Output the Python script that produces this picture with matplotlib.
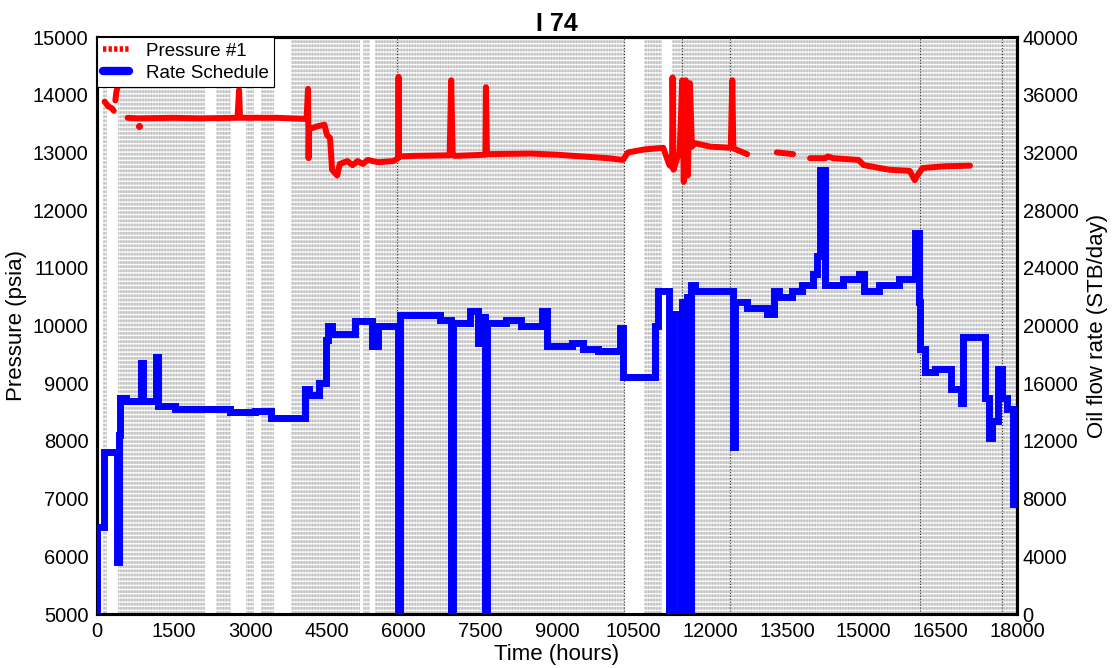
import numpy as np
import matplotlib.pyplot as plt
from matplotlib.lines import Line2D

plt.rcParams['font.family'] = ['Liberation Sans', 'DejaVu Sans']

# pressure gauge #1 (hours, psia); nan = no data
p_time = [150, 220, 300, 330, np.nan,
          360, 380, 400, np.nan,
          600, 800, 1500, 2000, 2750, 2780, 2800, 3500, 4100, 4130, 4140, 4150,
          4300, 4450, 4500, 4560, 4600, 4700, 4750, 4900, 5000, 5100, 5200, 5300,
          5500, 5800, 5890, 5900, 5910, 6200, 6900, 6930, 6960, 7000, 7600, 7610,
          7630, 8500, 9000, 9500, 10000, 10290, 10390, 10700, 11080, 11150, 11200,
          11250, 11260, 11280, 11350, 11400, 11450, 11480, 11520, 11560, 11600,
          11640, 11700, 12000, 12400, 12430, 12450, 12720, np.nan,
          13300, 13620, np.nan,
          13950, 14250, 14300, 14400, 14900, 15000, 15500, 15900, 16000, 16050,
          16150, 16600, 17080]
p_psia = [13880, 13800, 13760, 13720, np.nan,
          13900, 14050, 14120, np.nan,
          13600, 13590, 13600, 13590, 13600, 14080, 13600, 13600, 13580, 14100, 12900, 13400,
          13450, 13480, 13300, 13250, 12700, 12600, 12800, 12850, 12780, 12850, 12800, 12870,
          12830, 12850, 12900, 14310, 12930, 12940, 12950, 14250, 12950, 12940, 12960, 14130,
          12970, 12980, 12960, 12930, 12900, 12870, 13000, 13050, 13080, 12900, 12780,
          12750, 14300, 12700, 12900, 13000, 14250, 12490, 14250, 12600, 14200,
          13100, 13160, 13100, 13080, 14250, 13070, 12970, np.nan,
          13000, 12970, np.nan,
          12900, 12900, 12930, 12900, 12870, 12780, 12700, 12680, 12520, 12600,
          12730, 12760, 12770]
p_dead_time = [12720, 13300, np.nan, 13620, 13950, np.nan, 17080, 18000]
p_dead_psia = [12990, 12990, np.nan, 12930, 12930, np.nan, 12760, 12760]
p_odd_time = [820]
p_odd_psia = [13460]

# rate schedule (hours, STB/day), step changes
q_time = [0, 0, 140, 390, 430, 460, 560, 860, 900, 1150, 1190, 1200, 1530, 2600,
          3100, 3400, 4070, 4150, 4350, 4480, 4520, 4600, 5050, 5380, 5500, 5880,
          5930, 6710, 6920, 6960, 7300, 7450, 7550, 7600, 7640, 8000, 8300, 8700,
          8800, 9300, 9500, 9800, 10240, 10290, 10920, 10980, 11200, 11260, 11400,
          11440, 11500, 11540, 11580, 11620, 11700, 12440, 12480, 12720, 13100,
          13250, 13350, 13600, 13800, 14000, 14080, 14150, 14250, 14600, 14900,
          15000, 15300, 15700, 16010, 16080, 16110, 16200, 16400, 16700, 16900,
          16950, 17380, 17460, 17520, 17620, 17700, 17800, 17920]
q_rate = [0, 6000, 11200, 3600, 12400, 15000, 14800, 17400, 14800, 17800, 14800, 14400,
          14200, 14000, 14100, 13600, 15600, 15200, 16000, 19000, 20000, 19400, 20300,
          18600, 20000, 0, 20700, 20400, 0, 20200, 21000, 18800, 20600, 0, 20200,
          20400, 20000, 21000, 18600, 18800, 18400, 18200, 19800, 16400, 20000, 22400,
          0, 20800, 0, 21600, 0, 22000, 0, 22800, 22400, 11600, 21600, 21200, 20800,
          22400, 22000, 22400, 22800, 23600, 24800, 30800, 22800, 23200, 23600, 22400,
          22800, 23200, 26400, 21600, 18400, 16800, 17000, 15600, 14600, 19200, 15000,
          12200, 13400, 17000, 15000, 14200, 7600]

# periods with recorded data (grey background) and flow events
rec_start = [117, 411, 2329, 2916, 3209, 3797, 5206, 5440, 10705, 11253]
rec_end = [196, 2113, 2622, 3072, 3464, 5147, 5343, 10333, 11057, 17980]
events = [5870, 10310, 11450, 12390, 16100, 17710]

fig = plt.figure(figsize=(11.17, 6.68), dpi=100)
ax = fig.add_axes([0.0868, 0.0808, 0.8237, 0.8638])
ax2 = ax.twinx()

for s, e in zip(rec_start, rec_end):
    ax.axvspan(s, e, facecolor='#dcdcdc', edgecolor='#bdbdbd', hatch='||||||',
               linewidth=0, zorder=0)
    ax.axvspan(s, e, facecolor='none', edgecolor='white', hatch='----',
               linewidth=0, zorder=0.5)
for t in events:
    ax.axvline(t, color='#333333', lw=0.8, ls=':', zorder=1)

ax.plot(p_dead_time, p_dead_psia, color='#999999', lw=0.8, ls=':', zorder=2)
ax.plot(p_time, p_psia, color='red', lw=4.3, solid_capstyle='round', zorder=3)
ax.plot(p_odd_time, p_odd_psia, 'o', color='red', ms=4, zorder=3)
ax2.plot(q_time, q_rate, color='blue', lw=5, drawstyle='steps-post',
         solid_joinstyle='miter', zorder=3)

ax.set_xlim(0, 18000)
ax.set_ylim(5000, 15000)
ax2.set_ylim(0, 40000)
ax.set_xticks(np.arange(0, 18001, 1500))
ax.set_yticks(np.arange(5000, 15001, 1000))
ax2.set_yticks(np.arange(0, 40001, 4000))
ax.tick_params(length=0, labelsize=14.5, pad=6)
ax2.tick_params(length=0, labelsize=14.5, pad=4)
for a in (ax, ax2):
    for sp in a.spines.values():
        sp.set_linewidth(2.2)

ax.set_xlabel('Time (hours)', fontsize=16, labelpad=2)
ax.set_ylabel('Pressure (psia)', fontsize=16, labelpad=4)
ax2.set_ylabel('Oil flow rate (STB/day)', fontsize=16, labelpad=6)
ax.set_title('I 74', fontsize=18, fontweight='bold', pad=4)

handles = [Line2D([], [], color='red', lw=4, ls=(0, (0.6, 0.4))),
           Line2D([], [], color='blue', lw=6, solid_capstyle='round')]
leg = ax2.legend(handles, ['Pressure #1', 'Rate Schedule'], loc='upper left',
                 fontsize=13.5, frameon=True, fancybox=False, framealpha=1,
                 edgecolor='black', borderaxespad=0, handlelength=1.4,
                 borderpad=0.3, labelspacing=0.25, handletextpad=0.9)
leg.get_frame().set_linewidth(0.8)
leg.set_zorder(10)

fig.savefig('out.png', dpi=100)
